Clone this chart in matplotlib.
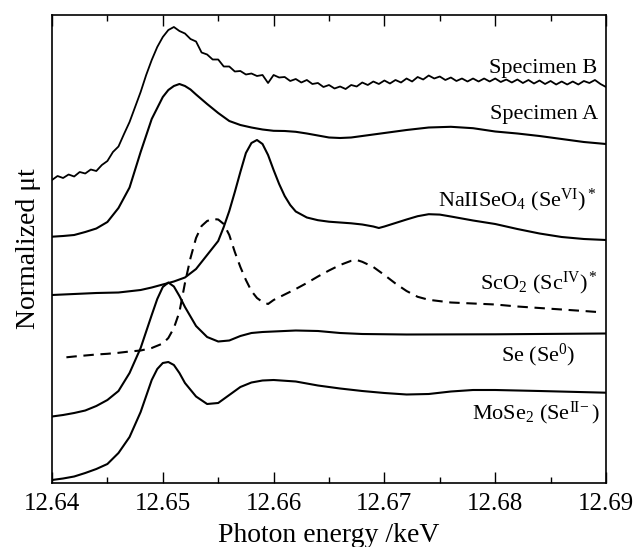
import matplotlib
matplotlib.use("Agg")
import matplotlib.pyplot as plt
from matplotlib.ticker import MultipleLocator

plt.rcParams['font.family'] = ['Liberation Serif', 'DejaVu Serif']
plt.rcParams['mathtext.fontset'] = 'custom'
plt.rcParams['mathtext.rm'] = 'Liberation Serif'
plt.rcParams['mathtext.it'] = 'Liberation Serif:italic'

# ---------------- data (photon energy in keV, normalized mu t with offsets) -------------
specB_E = [12.6400, 12.6405, 12.6410, 12.6415, 12.6420, 12.6425, 12.6430, 12.6435, 12.6440, 12.6445,
           12.6450, 12.6455, 12.6460, 12.6465, 12.6470, 12.6475, 12.6480, 12.6485, 12.6490, 12.6495,
           12.6500, 12.6505, 12.6510, 12.6515, 12.6520, 12.6525, 12.6530, 12.6535, 12.6540, 12.6545,
           12.6550, 12.6555, 12.6560, 12.6565, 12.6570, 12.6575, 12.6580, 12.6585, 12.6590, 12.6595,
           12.6600, 12.6605, 12.6610, 12.6615, 12.6620, 12.6625, 12.6630, 12.6635, 12.6640, 12.6645,
           12.6650, 12.6655, 12.6660, 12.6665, 12.6670, 12.6675, 12.6680, 12.6685, 12.6690, 12.6695,
           12.6700, 12.6705, 12.6710, 12.6715, 12.6720, 12.6725, 12.6730, 12.6735, 12.6740, 12.6745,
           12.6750, 12.6755, 12.6760, 12.6765, 12.6770, 12.6775, 12.6780, 12.6785, 12.6790, 12.6795,
           12.6800, 12.6805, 12.6810, 12.6815, 12.6820, 12.6825, 12.6830, 12.6835, 12.6840, 12.6845,
           12.6850, 12.6855, 12.6860, 12.6865, 12.6870, 12.6875, 12.6880, 12.6885, 12.6890, 12.6895,
           12.6900]
specB_mu = [3.030, 3.070, 3.050, 3.085, 3.065, 3.110, 3.095, 3.135, 3.120, 3.180,
            3.220, 3.310, 3.365, 3.490, 3.610, 3.760, 3.910, 4.080, 4.230, 4.360,
            4.460, 4.530, 4.560, 4.520, 4.495, 4.440, 4.415, 4.305, 4.285, 4.235,
            4.235, 4.165, 4.165, 4.115, 4.120, 4.085, 4.095, 4.070, 4.080, 4.000,
            4.080, 4.055, 4.060, 4.020, 4.040, 4.005, 4.030, 3.990, 4.000, 3.960,
            3.980, 3.945, 3.965, 3.940, 3.980, 3.965, 4.005, 3.980, 4.015, 3.990,
            4.025, 3.995, 4.030, 4.005, 4.045, 4.015, 4.060, 4.035, 4.075, 4.045,
            4.065, 4.030, 4.055, 4.020, 4.045, 4.015, 4.045, 4.015, 4.045, 4.015,
            4.045, 4.010, 4.035, 4.005, 4.035, 4.000, 4.030, 3.995, 4.025, 3.990,
            4.020, 3.985, 4.015, 3.985, 4.015, 3.985, 4.020, 4.000, 4.030, 3.990,
            3.960]

specA_E = [12.640, 12.641, 12.642, 12.643, 12.644, 12.645, 12.646, 12.647, 12.648, 12.649,
           12.650, 12.6505, 12.651, 12.6515, 12.652, 12.6525, 12.653, 12.654, 12.655, 12.656,
           12.657, 12.658, 12.659, 12.660, 12.661, 12.662, 12.663, 12.664, 12.665, 12.666,
           12.667, 12.668, 12.670, 12.672, 12.674, 12.676, 12.678, 12.680, 12.682, 12.684,
           12.686, 12.688, 12.690]
specA_mu = [2.463, 2.470, 2.480, 2.510, 2.545, 2.610, 2.750, 2.955, 3.310, 3.640,
            3.860, 3.930, 3.970, 3.990, 3.970, 3.935, 3.885, 3.790, 3.700, 3.620,
            3.580, 3.555, 3.535, 3.522, 3.520, 3.512, 3.495, 3.475, 3.455, 3.450,
            3.455, 3.470, 3.500, 3.530, 3.555, 3.562, 3.548, 3.515, 3.495, 3.470,
            3.440, 3.410, 3.390]

nahseo4_E = [12.640, 12.642, 12.644, 12.646, 12.648, 12.649, 12.650, 12.651, 12.652, 12.653,
             12.654, 12.655, 12.6555, 12.656, 12.6565, 12.657, 12.6575, 12.658, 12.6585, 12.659,
             12.6595, 12.660, 12.6605, 12.661, 12.6615, 12.662, 12.663, 12.664, 12.665, 12.666,
             12.667, 12.668, 12.669, 12.6695, 12.670, 12.671, 12.672, 12.673, 12.674, 12.675,
             12.676, 12.678, 12.680, 12.682, 12.684, 12.686, 12.688, 12.690]
nahseo4_mu = [1.880, 1.890, 1.900, 1.905, 1.930, 1.955, 1.985, 2.015, 2.055, 2.140,
              2.280, 2.420, 2.560, 2.720, 2.910, 3.110, 3.300, 3.400, 3.430, 3.390,
              3.280, 3.130, 2.990, 2.870, 2.780, 2.715, 2.655, 2.628, 2.613, 2.605,
              2.597, 2.585, 2.565, 2.550, 2.565, 2.600, 2.635, 2.668, 2.688, 2.684,
              2.665, 2.625, 2.590, 2.540, 2.495, 2.460, 2.440, 2.430]

seo2_E = [12.6413, 12.642, 12.643, 12.644, 12.645, 12.646, 12.647, 12.648, 12.649, 12.650,
          12.6505, 12.651, 12.6515, 12.652, 12.6525, 12.653, 12.6535, 12.654, 12.6545, 12.655,
          12.6555, 12.656, 12.6565, 12.657, 12.6575, 12.658, 12.6585, 12.659, 12.6595, 12.660,
          12.661, 12.662, 12.663, 12.664, 12.665, 12.666, 12.667, 12.6675, 12.668, 12.669,
          12.670, 12.671, 12.672, 12.673, 12.674, 12.676, 12.678, 12.680, 12.682, 12.684,
          12.686, 12.688, 12.6892]
seo2_mu = [1.257, 1.265, 1.275, 1.285, 1.292, 1.302, 1.315, 1.325, 1.350, 1.395,
           1.450, 1.550, 1.710, 2.000, 2.250, 2.450, 2.570, 2.620, 2.640, 2.635,
           2.590, 2.480, 2.310, 2.160, 2.030, 1.920, 1.850, 1.810, 1.790, 1.830,
           1.885, 1.940, 2.000, 2.065, 2.125, 2.180, 2.222, 2.230, 2.212, 2.160,
           2.080, 1.995, 1.920, 1.862, 1.832, 1.805, 1.795, 1.785, 1.765, 1.750,
           1.735, 1.720, 1.710]

se_E = [12.640, 12.641, 12.642, 12.643, 12.644, 12.645, 12.646, 12.647, 12.648, 12.649,
        12.6495, 12.650, 12.6505, 12.651, 12.6515, 12.652, 12.653, 12.654, 12.655, 12.656,
        12.657, 12.658, 12.659, 12.660, 12.662, 12.664, 12.666, 12.668, 12.672, 12.680,
        12.690]
se_mu = [0.665, 0.680, 0.700, 0.725, 0.770, 0.830, 0.920, 1.100, 1.350, 1.680,
         1.840, 1.960, 2.005, 1.965, 1.870, 1.760, 1.570, 1.460, 1.415, 1.425,
         1.470, 1.500, 1.510, 1.515, 1.525, 1.520, 1.500, 1.490, 1.485, 1.487,
         1.495]

mose2_E = [12.640, 12.641, 12.642, 12.643, 12.644, 12.645, 12.646, 12.647, 12.648, 12.649,
           12.6495, 12.650, 12.6505, 12.651, 12.6515, 12.652, 12.653, 12.654, 12.655, 12.656,
           12.657, 12.658, 12.659, 12.660, 12.662, 12.664, 12.666, 12.668, 12.670, 12.672,
           12.674, 12.676, 12.678, 12.680, 12.684, 12.690]
mose2_mu = [0.030, 0.045, 0.065, 0.100, 0.140, 0.190, 0.300, 0.460, 0.710, 1.030,
            1.140, 1.200, 1.210, 1.180, 1.100, 1.000, 0.865, 0.790, 0.800, 0.880,
            0.960, 1.005, 1.025, 1.030, 1.015, 0.975, 0.945, 0.920, 0.900, 0.885,
            0.890, 0.915, 0.930, 0.930, 0.920, 0.903]

labels = ['Specimen B', 'Specimen A', r'NaIISeO$_4$ (Se$^{\mathrm{VI}}$)$^*$',
          r'ScO$_2$ (Sc$^{\mathrm{IV}}$)$^*$', r'Se (Se$^0$)', r'MoSe$_2$ (Se$^{\mathrm{II\!-}}$)']
label_E = [12.6892, 12.6893, 12.6891, 12.6893, 12.6872, 12.6894]
label_mu = [4.14, 3.68, 2.83, 2.00, 1.28, 0.70]

x_ticks = [12.64, 12.65, 12.66, 12.67, 12.68, 12.69]
x_tick_labels = ['12.64', '12.65', '12.66', '12.67', '12.68', '12.69']

# ---------------- figure ----------------
fig = plt.figure(figsize=(6.37, 5.47), dpi=100)
ax = fig.add_axes([52 / 637, 1 - 483 / 547, (606 - 52) / 637, (483 - 15) / 547])

lw = 1.5
style = dict(color='black', solid_joinstyle='round', solid_capstyle='round')
ax.plot(specB_E, specB_mu, lw=1.3, **style)
ax.plot(specA_E, specA_mu, lw=lw, **style)
ax.plot(nahseo4_E, nahseo4_mu, lw=lw, **style)
ax.plot(seo2_E, seo2_mu, color='black', lw=lw, dashes=(5, 3.2))
ax.plot(se_E, se_mu, lw=lw, **style)
ax.plot(mose2_E, mose2_mu, lw=lw, **style)

for t, xe, ym in zip(labels, label_E, label_mu):
    ax.text(xe, ym, t, ha='right', va='center', fontsize=16, color='black')

ax.set_xlim(12.64, 12.69)
ax.set_ylim(0, 4.68)
ax.set_xticks(x_ticks)
ax.set_xticklabels(x_tick_labels)
ax.xaxis.set_minor_locator(MultipleLocator(0.005))
ax.set_yticks([])
ax.tick_params(axis='x', which='both', direction='in', top=True, bottom=True,
               labelsize=18, pad=7, width=1.0)
ax.tick_params(axis='x', which='major', length=8)
ax.tick_params(axis='x', which='minor', length=4)
for s in ax.spines.values():
    s.set_linewidth(1.2)

ax.set_xlabel('Photon energy /keV', fontsize=20, labelpad=6)
ax.set_ylabel('Normalized μt', fontsize=20, labelpad=8)

fig.savefig('out.png', dpi=100)
